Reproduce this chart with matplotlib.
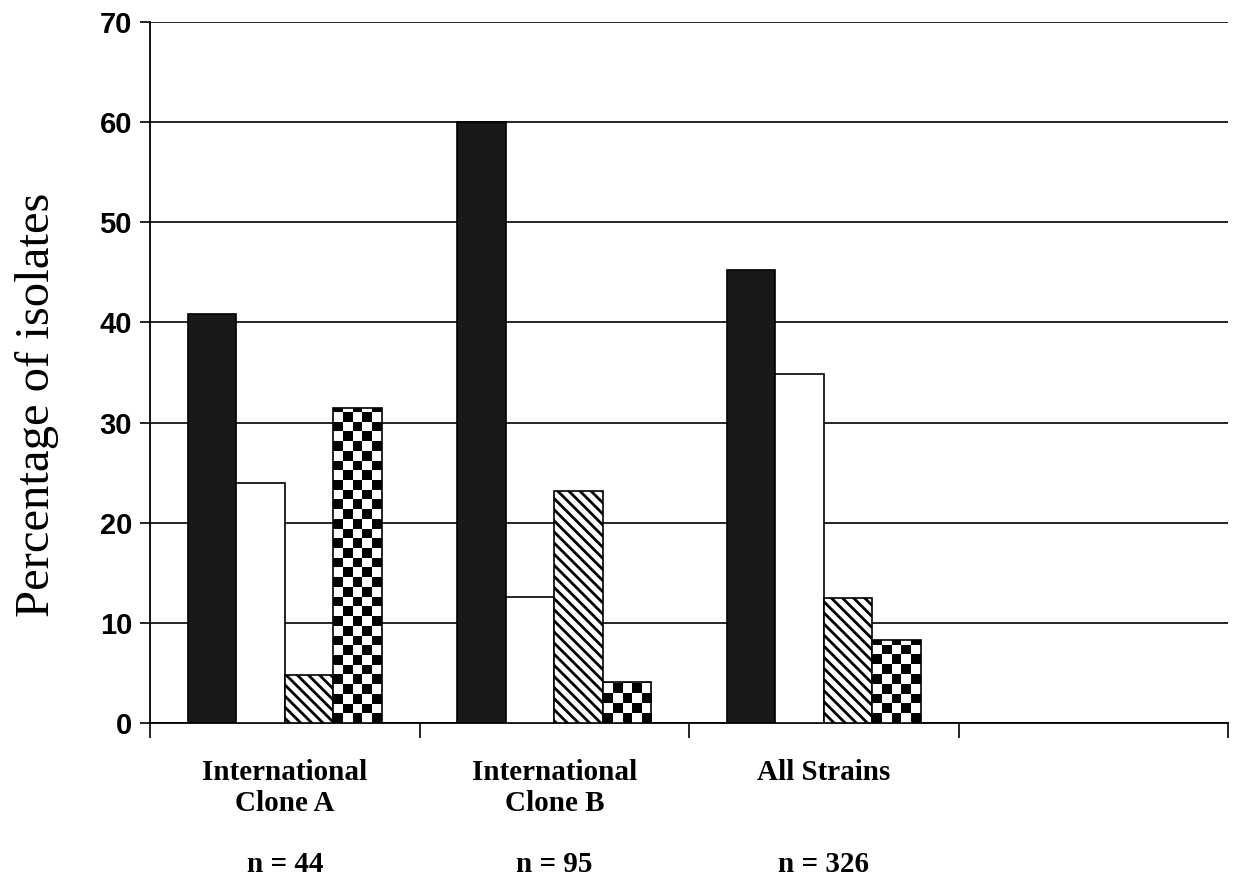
import numpy as np
import matplotlib
matplotlib.use('Agg')
from matplotlib import pyplot as plt

categories = ['International\nClone A', 'International\nClone B', 'All Strains', '']
n_labels = ['n = 44', 'n = 95', 'n = 326']
black_vals = [40.8, 60.0, 45.2]
white_vals = [24.0, 12.6, 34.8]
hatch_vals = [4.8, 23.2, 12.5]
check_vals = [31.5, 4.1, 8.3]
yticks = [0, 10, 20, 30, 40, 50, 60, 70]

SERIF = ['Liberation Serif', 'DejaVu Serif']
SANS = ['Liberation Sans', 'DejaVu Sans']
plt.rcParams['hatch.linewidth'] = 2.0

fig = plt.figure(figsize=(12.33, 8.81), dpi=100)
ax = fig.add_axes([0.1217, 0.1794, 0.8743, 0.7956])

ax.set_xlim(0, 4)
ax.set_ylim(0, 70)

width = 0.18
x = np.arange(len(black_vals)) + 0.5
offsets = [-1.5 * width, -0.5 * width, 0.5 * width, 1.5 * width]

ax.bar(x + offsets[0], black_vals, width, color='#191919', edgecolor='black', linewidth=1.2, zorder=3)
ax.bar(x + offsets[1], white_vals, width, color='white', edgecolor='black', linewidth=1.2, zorder=3)
ax.bar(x + offsets[2], hatch_vals, width, color='white', edgecolor='black', hatch='\\\\\\',
       linewidth=1.2, zorder=3)
check_bars = ax.bar(x + offsets[3], check_vals, width, facecolor='none', edgecolor='black',
                    linewidth=1.2, zorder=4)

# checkerboard fill, clipped to each bar
ncols = 5
px_x = ax.transData.transform([(0, 0), (width, 0)])
cell_px = (px_x[1][0] - px_x[0][0]) / ncols
px_y = ax.transData.transform([(0, 0), (0, 1)])
cell_h = cell_px / (px_y[1][1] - px_y[0][1])
for bar in check_bars:
    x0 = bar.get_x()
    h = bar.get_height()
    nrows = int(np.ceil(h / cell_h))
    pattern = np.indices((nrows, ncols)).sum(axis=0) % 2
    im = ax.imshow(pattern, cmap='gray', origin='lower', interpolation='nearest',
                   extent=(x0, x0 + width, 0, nrows * cell_h), aspect='auto', zorder=3)
    im.set_clip_path(bar)

ax.set_xlim(0, 4)
ax.set_ylim(0, 70)

# grid and axes
ax.set_axisbelow(True)
ax.set_yticks(yticks)
ax.yaxis.grid(True, color='black', linewidth=1.2)
ax.spines['top'].set_visible(False)
ax.spines['right'].set_visible(False)
ax.spines['left'].set_linewidth(1.3)
ax.spines['bottom'].set_linewidth(1.3)
ax.tick_params(axis='y', direction='out', length=7, width=1.2, pad=6)
for lab in ax.get_yticklabels():
    lab.set_family(SANS)
    lab.set_fontsize(21)
    lab.set_fontweight('bold')

ax.set_xticks(range(5))
ax.set_xticklabels([])
ax.tick_params(axis='x', direction='out', length=11, width=1.2)

for i, cat in enumerate(categories):
    if cat:
        ax.text(i + 0.5, -0.052, cat, transform=ax.get_xaxis_transform(), ha='center', va='top',
                family=SERIF, fontsize=21, fontweight='bold', linespacing=1.15)
for i, n in enumerate(n_labels):
    ax.text(i + 0.5, -0.183, n, transform=ax.get_xaxis_transform(), ha='center', va='top',
            family=SERIF, fontsize=21, fontweight='bold')

fig.text(0.030, 1 - 405 / 881, 'Percentage of isolates', rotation=90, ha='center', va='center',
         family=SERIF, fontsize=35)

fig.savefig('out.png', dpi=100)
